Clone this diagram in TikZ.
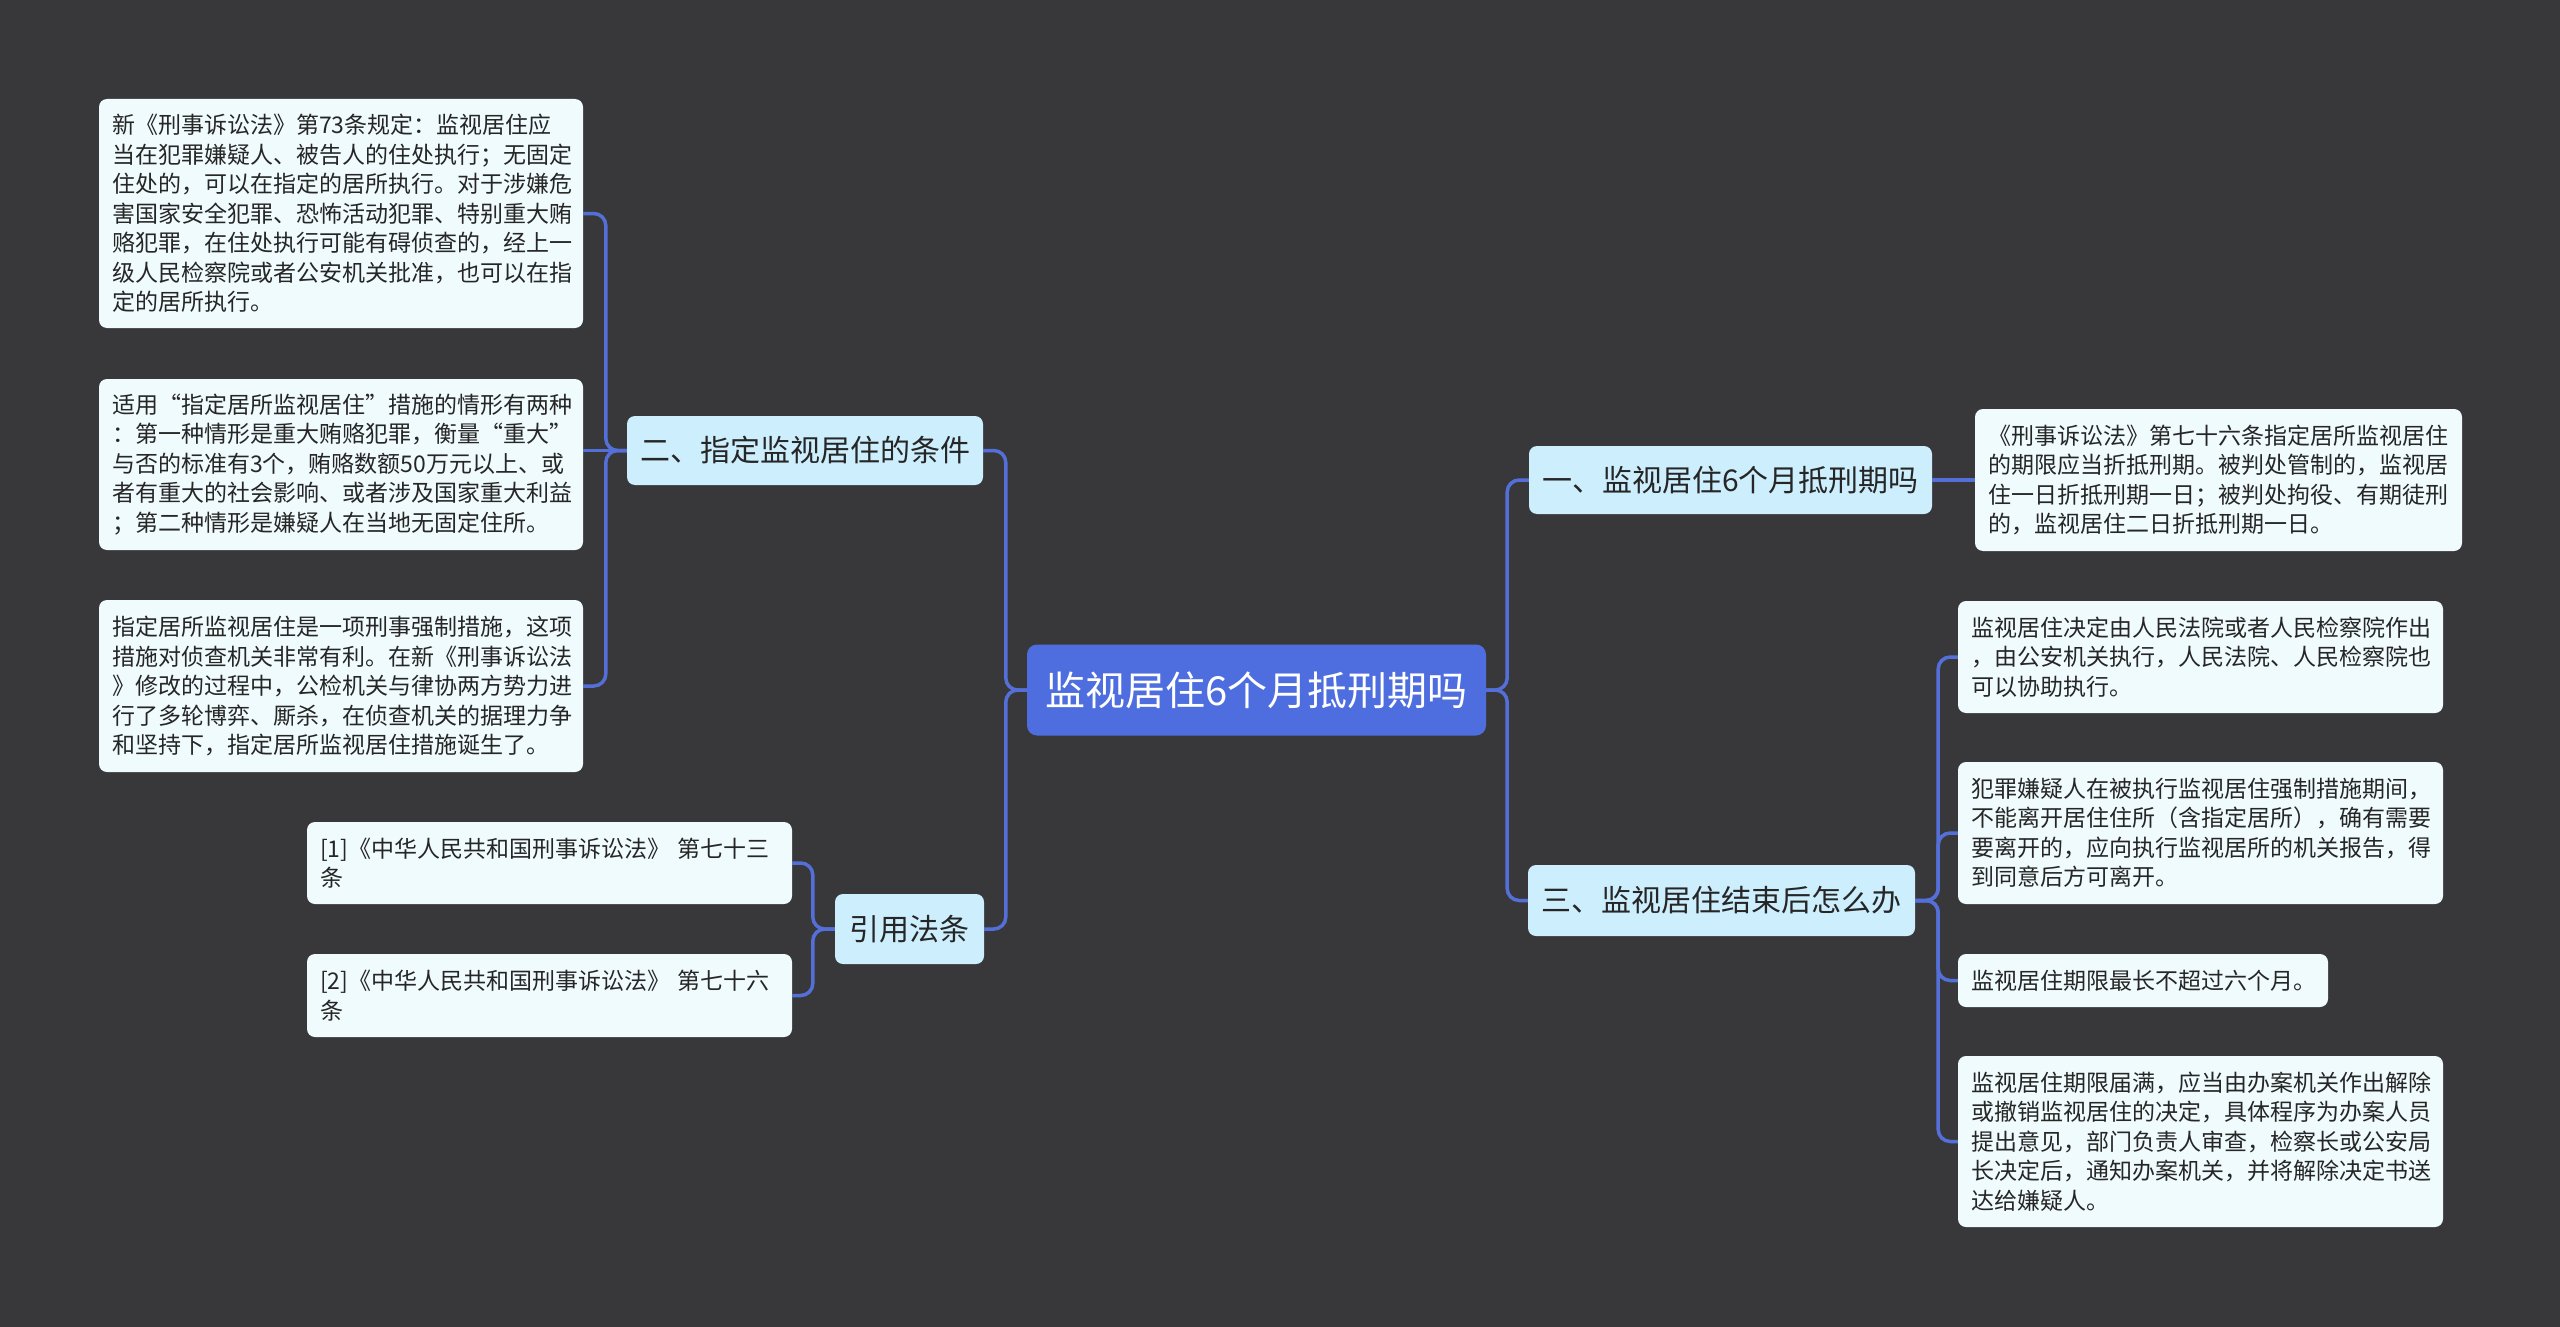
\documentclass[tikz,border=0pt]{standalone}
\usepackage{fontspec}
\setmainfont{Noto Sans CJK SC}
\definecolor{bgc}{RGB}{56,56,58}
\definecolor{linec}{RGB}{84,112,216}
\definecolor{cfill}{RGB}{78,110,224}
\definecolor{brfill}{RGB}{205,238,252}
\definecolor{boxfill}{RGB}{240,251,253}
\definecolor{txtc}{RGB}{38,38,38}
\begin{document}
\begin{tikzpicture}[x=1pt,y=-1pt,
  conn/.style={draw=linec,line width=3.5pt,rounded corners=12pt},
  txt/.style 2 args={fill=boxfill,rounded corners=8pt,text=txtc,align=left,
    inner xsep=13pt,inner ysep=4pt,text width=#1pt,minimum height=#2pt,
    font=\fontsize{23}{29.5}\selectfont},
  br/.style 2 args={fill=brfill,rounded corners=8pt,text=txtc,inner sep=0pt,
    minimum width=#1pt,minimum height=#2pt,font=\fontsize{30}{36}\selectfont},
  ctr/.style={fill=cfill,rounded corners=10pt,text=white,inner sep=0pt,
    minimum width=459pt,minimum height=91pt,font=\fontsize{40}{48}\selectfont}]
\fill[bgc] (0,0) rectangle (2560,1327);

% center and branches
\node[ctr] (c) at (1256.5,690) {监视居住6个月抵刑期吗};
\node[br={356}{69}] (b2) at (805,450.5) {二、指定监视居住的条件};
\node[br={403}{68}] (b1) at (1730.5,480) {一、监视居住6个月抵刑期吗};
\node[br={387}{71}] (b3) at (1721.5,900.5) {三、监视居住结束后怎么办};
\node[br={149}{70}] (bref) at (909.5,929) {引用法条};

% left text boxes
\node[txt={458}{229}] (l1) at (341,213.5) {新《刑事诉讼法》第73条规定：监视居住应\\
当在犯罪嫌疑人、被告人的住处执行；无固定\\
住处的，可以在指定的居所执行。对于涉嫌危\\
害国家安全犯罪、恐怖活动犯罪、特别重大贿\\
赂犯罪，在住处执行可能有碍侦查的，经上一\\
级人民检察院或者公安机关批准，也可以在指\\
定的居所执行。};
\node[txt={458}{171}] (l2) at (341,464.5) {适用“指定居所监视居住”措施的情形有两种\\
：第一种情形是重大贿赂犯罪，衡量“重大”\\
与否的标准有3个，贿赂数额50万元以上、或\\
者有重大的社会影响、或者涉及国家重大利益\\
；第二种情形是嫌疑人在当地无固定住所。};
\node[txt={458}{172}] (l3) at (341,686) {指定居所监视居住是一项刑事强制措施，这项\\
措施对侦查机关非常有利。在新《刑事诉讼法\\
》修改的过程中，公检机关与律协两方势力进\\
行了多轮博弈、厮杀，在侦查机关的据理力争\\
和坚持下，指定居所监视居住措施诞生了。};

% reference boxes
\node[txt={459}{82}] (f1) at (549.5,863) {[1]《中华人民共和国刑事诉讼法》~第七十三\\条};
\node[txt={459}{83}] (f2) at (549.5,995.5) {[2]《中华人民共和国刑事诉讼法》~第七十六\\条};

% right text boxes
\node[txt={461}{142}] (r1) at (2218.5,480) {《刑事诉讼法》第七十六条指定居所监视居住\\
的期限应当折抵刑期。被判处管制的，监视居\\
住一日折抵刑期一日；被判处拘役、有期徒刑\\
的，监视居住二日折抵刑期一日。};
\node[txt={459}{112}] (r2) at (2200.5,657) {监视居住决定由人民法院或者人民检察院作出\\
，由公安机关执行，人民法院、人民检察院也\\
可以协助执行。};
\node[txt={459}{142}] (r3) at (2200.5,833) {犯罪嫌疑人在被执行监视居住强制措施期间，\\
不能离开居住住所（含指定居所），确有需要\\
要离开的，应向执行监视居所的机关报告，得\\
到同意后方可离开。};
\node[txt={344}{53}] (r4) at (2143,980.5) {监视居住期限最长不超过六个月。};
\node[txt={459}{171}] (r5) at (2200.5,1141.5) {监视居住期限届满，应当由办案机关作出解除\\
或撤销监视居住的决定，具体程序为办案人员\\
提出意见，部门负责人审查，检察长或公安局\\
长决定后，通知办案机关，并将解除决定书送\\
达给嫌疑人。};

% connectors
\draw[conn] (c.west) -- ++(-21,0) |- (b2.east);
\draw[conn] (c.west) -- ++(-21,0) |- (bref.east);
\draw[conn] (c.east) -- ++(21,0) |- (b1.west);
\draw[conn] (c.east) -- ++(21,0) |- (b3.west);
\draw[conn] (b1.east) -- (r1.west);
\draw[conn] (b3.east) -- ++(23,0) |- (r2.west);
\draw[conn] (b3.east) -- ++(23,0) |- (r3.west);
\draw[conn] (b3.east) -- ++(23,0) |- (r4.west);
\draw[conn] (b3.east) -- ++(23,0) |- (r5.west);
\draw[conn] (b2.west) -- ++(-21,0) |- (l1.east);
\draw[conn] (b2.west) -- (b2.west -| l2.east);
\draw[conn] (b2.west) -- ++(-21,0) |- (l3.east);
\draw[conn] (bref.west) -- ++(-22,0) |- (f1.east);
\draw[conn] (bref.west) -- ++(-22,0) |- (f2.east);
\end{tikzpicture}
\end{document}
